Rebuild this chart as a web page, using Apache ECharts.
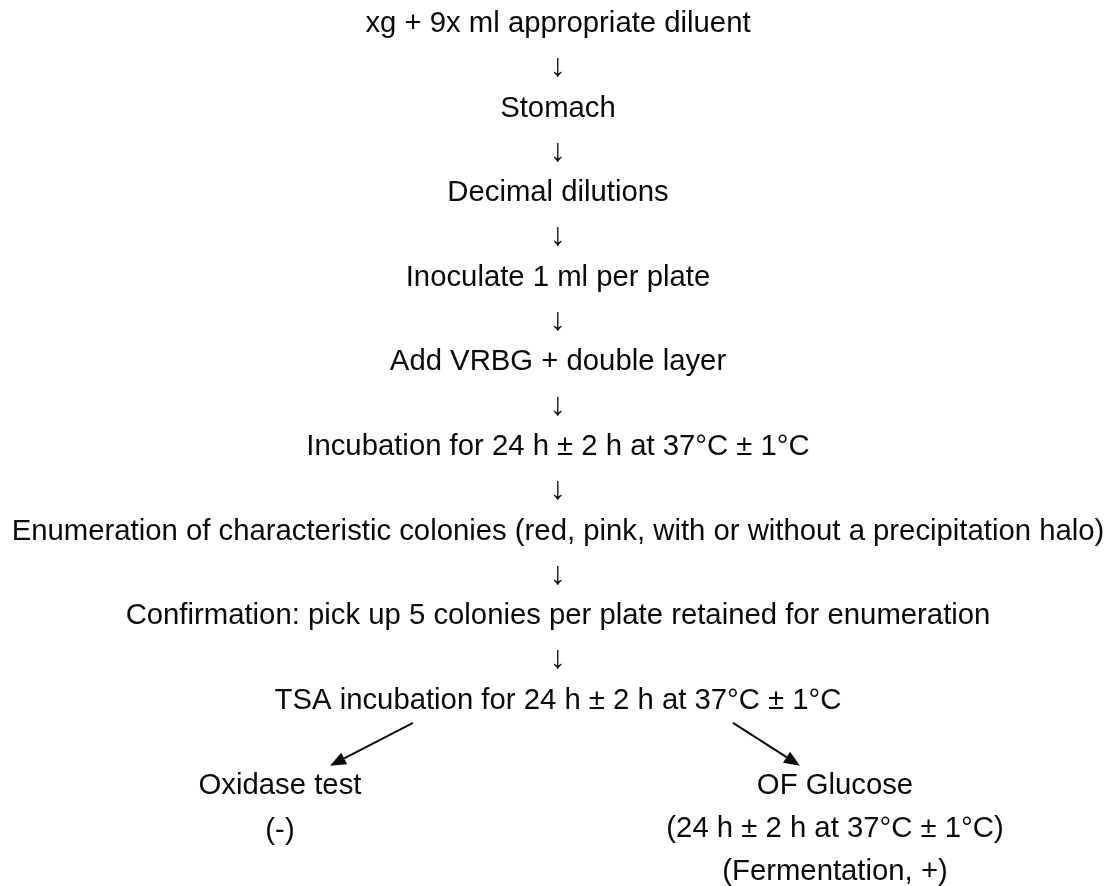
<!DOCTYPE html>
<html>
<head>
<meta charset="utf-8">
<script src="https://cdn.jsdelivr.net/npm/echarts@6/dist/echarts.min.js"></script>
<style>html,body{margin:0;padding:0;background:#fff;}#c{width:1116px;height:886px;}</style>
</head>
<body>
<div id="c"></div>
<script>
// Main flow steps (top to bottom)
const steps = [
  "xg + 9x ml appropriate diluent",
  "Stomach",
  "Decimal dilutions",
  "Inoculate 1 ml per plate",
  "Add VRBG + double layer",
  "Incubation for 24 h \u00B1 2 h at 37\u00B0C \u00B1 1\u00B0C",
  "Enumeration of characteristic colonies (red, pink, with or without a precipitation halo)",
  "Confirmation: pick up 5 colonies per plate retained for enumeration",
  "TSA incubation for 24 h \u00B1 2 h at 37\u00B0C \u00B1 1\u00B0C"
];
// Branches after last step
const leftBranch = ["Oxidase test", "(-)"];
const rightBranch = ["OF Glucose", "(24 h \u00B1 2 h at 37\u00B0C \u00B1 1\u00B0C)", "(Fermentation, +)"];

const chart = echarts.init(document.getElementById('c'), null, {renderer: 'canvas'});
const FONT = "'Liberation Sans', Arial, sans-serif";
const FS = 29.3;
const CX = 558;
const TOP = 24, STEP = 84.6;
const g = [];
function txt(s, x, y, fs) {
  g.push({type: 'text', x: x, y: y, style: {text: s, font: (fs || FS) + 'px ' + FONT, fill: '#0a0a0a', textAlign: 'center', textVerticalAlign: 'middle'}});
}
steps.forEach((s, i) => {
  const y = TOP + i * STEP;
  txt(s, CX, y);
  if (i < steps.length - 1) txt("\u2193", CX, y + STEP / 2 + 1, 32);
});
const lastY = TOP + (steps.length - 1) * STEP;
const LX = 280, RX = 835, BY = lastY + 85, LH = 43;
leftBranch.forEach((s, i) => txt(s, LX, BY + i * 45));
rightBranch.forEach((s, i) => txt(s, RX, BY + i * LH));

function arrow(x1, y1, x2, y2) {
  const a = Math.atan2(y2 - y1, x2 - x1);
  const hl = 16, hw = 6.5;
  const bx = x2 - hl * Math.cos(a), by = y2 - hl * Math.sin(a);
  g.push({type: 'line', shape: {x1: x1, y1: y1, x2: bx, y2: by}, style: {stroke: '#0a0a0a', lineWidth: 2}});
  g.push({type: 'polygon', shape: {points: [[x2, y2],
    [bx + hw * Math.sin(a), by - hw * Math.cos(a)],
    [bx - hw * Math.sin(a), by + hw * Math.cos(a)]]}, style: {fill: '#0a0a0a'}});
}
arrow(413, lastY + 22, 330, lastY + 65);
arrow(733, lastY + 22, 800, lastY + 65);

chart.setOption({backgroundColor: '#fff', animation: false, graphic: g});
</script>
</body>
</html>
